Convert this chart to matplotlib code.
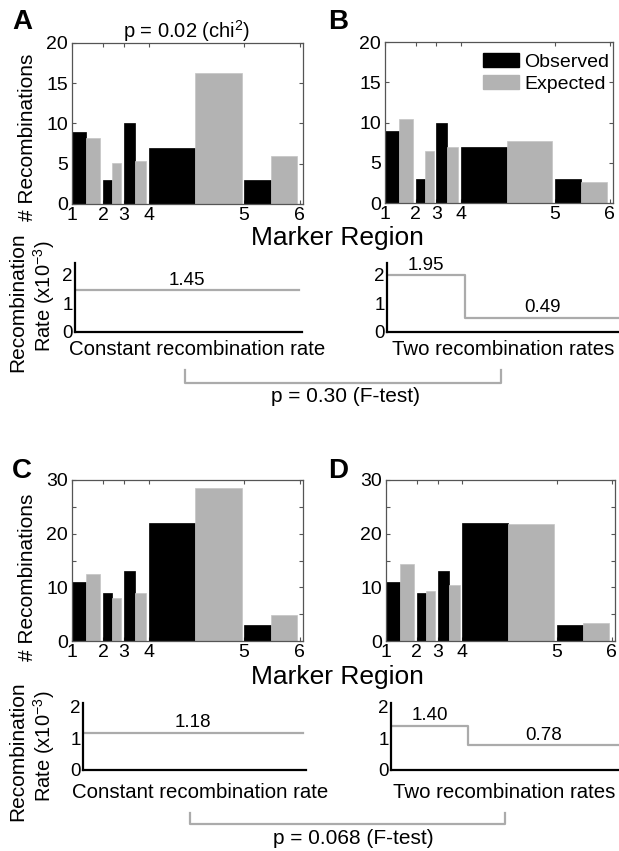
import matplotlib
matplotlib.use("Agg")
import matplotlib.pyplot as plt
from matplotlib.patches import Patch
from matplotlib.lines import Line2D
from matplotlib.ticker import MultipleLocator

plt.rcParams['font.family'] = ['Liberation Sans', 'DejaVu Sans']
plt.rcParams['mathtext.fontset'] = 'custom'
plt.rcParams['mathtext.rm'] = 'Liberation Sans'
plt.rcParams['mathtext.it'] = 'Liberation Sans:italic'
plt.rcParams['mathtext.bf'] = 'Liberation Sans:bold'

NARROW = ['Liberation Sans Narrow', 'Liberation Sans']

# ---------------- data ----------------
marker_labels = ['1', '2', '3', '4', '5', '6']
marker_pos = [0, 13.4, 22.5, 33.3, 74.5, 98.5]   # relative positions of markers

observed_AB = [9, 3, 10, 7, 3]
expected_A = [8.2, 5.1, 5.4, 16.3, 6.0]
expected_B = [10.4, 6.5, 7.0, 7.7, 2.6]

observed_CD = [11, 9, 13, 22, 3]
expected_C = [12.4, 8.0, 9.0, 28.6, 4.8]
expected_D = [14.4, 9.3, 10.5, 21.8, 3.4]

rate_const_top = [1.45]
rate_two_top = [1.95, 0.49]
rate_const_bot = [1.18]
rate_two_bot = [1.40, 0.78]
rate_break_marker = 3   # index of marker 4 where the rate changes

pval_chi = 'p = 0.02 (chi$^{2}$)'
pval_f_top = 'p = 0.30 (F-test)'
pval_f_bot = 'p = 0.068 (F-test)'

# ---------------- layout ----------------
W, H = 619, 851
fig = plt.figure(figsize=(W / 100, H / 100), dpi=100)

def box(x0, y0, x1, y1):
    return [x0 / W, 1 - y1 / H, (x1 - x0) / W, (y1 - y0) / H]

def fx(x):
    return x / W

def fy(y):
    return 1 - y / H

BLACK = '#000000'
GREY = '#b3b3b3'
LINEGREY = '#ababab'
FRAME = '#555555'
GAP = 1.1

def bar_panel(rect, obs, exp, ymax, major, minor=None, legend=False):
    ax = fig.add_axes(rect)
    for i in range(len(obs)):
        w = marker_pos[i + 1] - marker_pos[i] - GAP
        ax.bar(marker_pos[i], obs[i], width=w / 2, align='edge',
               color=BLACK, edgecolor=BLACK, linewidth=0.5, zorder=2)
        ax.bar(marker_pos[i] + w / 2, exp[i], width=w / 2, align='edge',
               color=GREY, edgecolor='#c4c4c4', linewidth=0.5, zorder=2)
    ax.set_xlim(0, 100)
    ax.set_ylim(0, ymax)
    ax.set_xticks(marker_pos)
    ax.set_xticklabels(marker_labels)
    ax.yaxis.set_major_locator(MultipleLocator(major))
    if minor:
        ax.yaxis.set_minor_locator(MultipleLocator(minor))
    ax.tick_params(which='both', direction='in', top=True, right=True,
                   length=3, width=0.8, color=FRAME, labelsize=14, pad=3)
    ax.tick_params(axis='x', pad=2)
    for s in ax.spines.values():
        s.set_color(FRAME)
        s.set_linewidth(0.9)
    if legend:
        handles = [Patch(facecolor=BLACK, edgecolor=BLACK),
                   Patch(facecolor=GREY, edgecolor=GREY)]
        ax.legend(handles, ['Observed', 'Expected'], loc='upper right',
                  bbox_to_anchor=(fx(609), fy(53)), bbox_transform=fig.transFigure,
                  frameon=False, fontsize=14, handlelength=1.85, handleheight=0.75,
                  handletextpad=0.25, labelspacing=0.2, borderpad=0, borderaxespad=0)
    return ax

def rate_panel(rect, rates, ymax, two=False, xmax=100):
    ax = fig.add_axes(rect)
    if two:
        xs = [marker_pos[0], marker_pos[rate_break_marker], marker_pos[-1]]
        ax.step(xs, [rates[0], rates[1], rates[1]], where='post',
                color=LINEGREY, lw=1.6, zorder=1)
        segs = [(xs[0], xs[1], rates[0]), (xs[1], xs[2], rates[1])]
    else:
        xs = [marker_pos[0], marker_pos[-1]]
        ax.plot(xs, [rates[0], rates[0]], color=LINEGREY, lw=1.6, zorder=1)
        segs = [(xs[0], xs[1], rates[0])]
    for a, b, v in segs:
        ax.annotate(f'{v:.2f}', xy=((a + b) / 2, v), xytext=(0, 1),
                    textcoords='offset points', ha='center', va='bottom',
                    fontsize=13.5, family=NARROW)
    ax.set_xlim(0, xmax)
    ax.set_ylim(0, ymax)
    ax.set_xticks([])
    ax.set_yticks([0, 1, 2])
    ax.tick_params(axis='y', length=0, labelsize=13.5, pad=1.5)
    for lab in ax.get_yticklabels():
        lab.set_family(NARROW)
    ax.spines['top'].set_visible(False)
    ax.spines['right'].set_visible(False)
    ax.spines['left'].set_linewidth(1.6)
    ax.spines['bottom'].set_linewidth(1.6)
    ax.patch.set_alpha(0)
    return ax

# bar panels
bar_panel(box(72, 43, 303, 204), observed_AB, expected_A, 20, 5)
bar_panel(box(385, 42, 613, 203), observed_AB, expected_B, 20, 5, legend=True)
bar_panel(box(72, 480, 303, 641), observed_CD, expected_C, 30, 10, 5)
bar_panel(box(386, 480, 615, 641), observed_CD, expected_D, 30, 10, 5)

# rate panels
rate_panel(box(75, 263, 302, 332), rate_const_top, 2.38)
rate_panel(box(387, 263, 619, 332), rate_two_top, 2.38, two=True, xmax=98.5)
rate_panel(box(83, 703, 306, 770), rate_const_bot, 2.12)
rate_panel(box(391, 703, 619, 770), rate_two_bot, 2.12, two=True, xmax=98.5)

# panel letters
for lab, x, y in [('A', 22, 22), ('B', 338, 22), ('C', 22, 471), ('D', 338, 471)]:
    fig.text(fx(x), fy(y), lab, fontsize=20, fontweight='bold', ha='center', va='center')

fig.text(fx(187), fy(31), pval_chi, fontsize=14.5, ha='center', va='center')

# axis titles
for y in (238, 677):
    fig.text(fx(337), fy(y), 'Marker Region', fontsize=19, ha='center', va='center')
for y in (137, 577):
    fig.text(fx(28), fy(y), '# Recombinations', fontsize=15, rotation=90,
             ha='center', va='center')
for y1, y2 in ((302, 296), (751, 746)):
    fig.text(fx(18), fy(y1), 'Recombination', fontsize=15, rotation=90,
             ha='center', va='center')
    fig.text(fx(44), fy(y2), 'Rate (x10$^{-3}$)', fontsize=14.5, rotation=90,
             ha='center', va='center')

# model labels
for y, xl, xr in ((350, 197, 503), (792, 200, 504)):
    fig.text(fx(xl), fy(y), 'Constant recombination rate', fontsize=14.7,
             ha='center', va='center')
    fig.text(fx(xr), fy(y), 'Two recombination rates', fontsize=14.7,
             ha='center', va='center')

# brackets with F-test p values
for (x0, x1, ytop, ybot, ytxt, xt, txt) in ((185, 501, 370, 383, 397, 345, pval_f_top),
                                              (190, 505, 813, 824, 838, 353, pval_f_bot)):
    fig.add_artist(Line2D([fx(x0), fx(x0), fx(x1), fx(x1)],
                          [fy(ytop), fy(ybot), fy(ybot), fy(ytop)],
                          transform=fig.transFigure, color=LINEGREY, lw=1.6))
    fig.text(fx(xt), fy(ytxt), txt, fontsize=15, ha='center', va='center')

fig.savefig('out.png', dpi=100)
